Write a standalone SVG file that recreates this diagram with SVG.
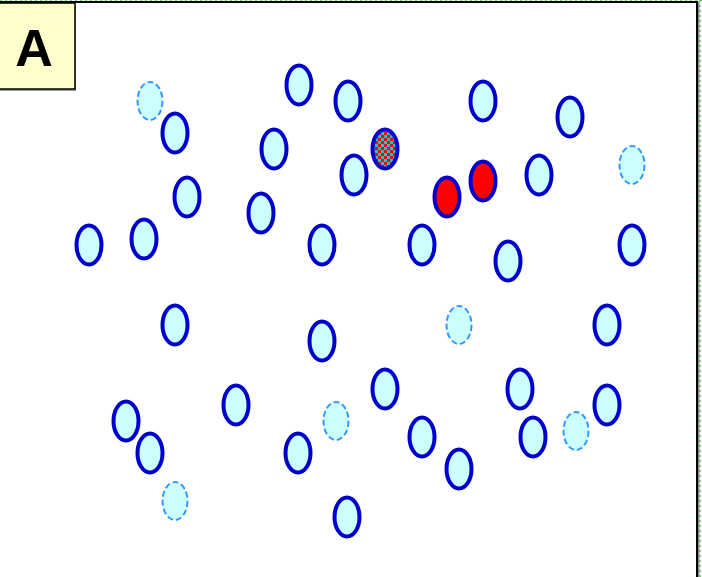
<svg xmlns="http://www.w3.org/2000/svg" width="702" height="577" viewBox="0 0 702 577">
<style>
.n{fill:#CCFFFF;stroke:#0000CC;stroke-width:4}
.d{fill:#CCFFFF;stroke:#3399FF;stroke-width:2;stroke-dasharray:6 3}
.r{fill:#FF0000;stroke:#0000CC;stroke-width:4}
.c{fill:url(#chk);stroke:#0000CC;stroke-width:4}
.lbl{font-family:"Liberation Sans",Arial,sans-serif;font-weight:bold;font-size:52px;fill:#000}
</style>
<defs>
<pattern id="chk" width="6" height="6" patternUnits="userSpaceOnUse">
<rect width="6" height="6" fill="#00CCCC"/>
<rect width="3" height="3" fill="#FF0000"/>
<rect x="3" y="3" width="3" height="3" fill="#FF0000"/>
</pattern>
</defs>
<rect width="702" height="577" fill="#fff"/>
<line x1="700" y1="0" x2="700" y2="577" stroke="#66DD66" stroke-width="2" stroke-dasharray="2 3"/>
<line x1="0" y1="0.5" x2="702" y2="0.5" stroke="#66DD66" stroke-width="1" stroke-dasharray="2 3"/>
<line x1="698" y1="2" x2="698" y2="577" stroke="#888" stroke-width="3"/>
<path d="M0 2 H697 V577" fill="none" stroke="#000" stroke-width="2"/>
<g id="label">
<rect x="-1" y="5" width="77" height="86" fill="#999"/>
<rect x="-2" y="3" width="77" height="86" fill="#FFFFCC" stroke="#000" stroke-width="1.5"/>
<text class="lbl" x="34" y="66" text-anchor="middle">A</text>
</g>
<g id="nodes">
<ellipse id="n1" class="d" cx="150" cy="101" rx="12.5" ry="19"/>
<ellipse id="n2" class="n" cx="299" cy="85" rx="12.5" ry="19.5"/>
<ellipse id="n3" class="n" cx="348" cy="101" rx="12.5" ry="19.5"/>
<ellipse id="n4" class="n" cx="483" cy="101" rx="12.5" ry="19.5"/>
<ellipse id="n5" class="n" cx="570" cy="117" rx="12.5" ry="19.5"/>
<ellipse id="n6" class="n" cx="175" cy="133" rx="12.5" ry="19.5"/>
<ellipse id="n7" class="n" cx="274" cy="149" rx="12.5" ry="19.5"/>
<ellipse id="n8" class="c" cx="385" cy="149" rx="12.5" ry="19.5"/>
<ellipse id="n9" class="n" cx="354" cy="175" rx="12.5" ry="19.5"/>
<ellipse id="n10" class="d" cx="632" cy="165" rx="12.5" ry="19"/>
<ellipse id="n11" class="r" cx="483" cy="181" rx="12.5" ry="19.5"/>
<ellipse id="n12" class="r" cx="447" cy="197" rx="12.5" ry="19.5"/>
<ellipse id="n13" class="n" cx="539" cy="175" rx="12.5" ry="19.5"/>
<ellipse id="n14" class="n" cx="187" cy="197" rx="12.5" ry="19.5"/>
<ellipse id="n15" class="n" cx="261" cy="213" rx="12.5" ry="19.5"/>
<ellipse id="n16" class="n" cx="89" cy="245" rx="12.5" ry="19.5"/>
<ellipse id="n17" class="n" cx="144" cy="239" rx="12.5" ry="19.5"/>
<ellipse id="n18" class="n" cx="322" cy="245" rx="12.5" ry="19.5"/>
<ellipse id="n19" class="n" cx="422" cy="245" rx="12.5" ry="19.5"/>
<ellipse id="n20" class="n" cx="508" cy="261" rx="12.5" ry="19.5"/>
<ellipse id="n21" class="n" cx="632" cy="245" rx="12.5" ry="19.5"/>
<ellipse id="n22" class="n" cx="175" cy="325" rx="12.5" ry="19.5"/>
<ellipse id="n23" class="n" cx="322" cy="341" rx="12.5" ry="19.5"/>
<ellipse id="n24" class="d" cx="459" cy="325" rx="12.5" ry="19"/>
<ellipse id="n25" class="n" cx="607" cy="325" rx="12.5" ry="19.5"/>
<ellipse id="n26" class="n" cx="236" cy="405" rx="12.5" ry="19.5"/>
<ellipse id="n27" class="n" cx="385" cy="389" rx="12.5" ry="19.5"/>
<ellipse id="n28" class="n" cx="520" cy="389" rx="12.5" ry="19.5"/>
<ellipse id="n29" class="n" cx="607" cy="405" rx="12.5" ry="19.5"/>
<ellipse id="n30" class="n" cx="126" cy="421" rx="12.5" ry="19.5"/>
<ellipse id="n31" class="n" cx="150" cy="453" rx="12.5" ry="19.5"/>
<ellipse id="n32" class="d" cx="336" cy="421" rx="12.5" ry="19"/>
<ellipse id="n33" class="n" cx="298" cy="453" rx="12.5" ry="19.5"/>
<ellipse id="n34" class="n" cx="422" cy="437" rx="12.5" ry="19.5"/>
<ellipse id="n35" class="n" cx="533" cy="437" rx="12.5" ry="19.5"/>
<ellipse id="n36" class="d" cx="576" cy="431" rx="12.5" ry="19"/>
<ellipse id="n37" class="n" cx="459" cy="469" rx="12.5" ry="19.5"/>
<ellipse id="n38" class="d" cx="175" cy="501" rx="12.5" ry="19"/>
<ellipse id="n39" class="n" cx="347" cy="517" rx="12.5" ry="19.5"/>
</g>
<g id="connectors"></g>
</svg>
